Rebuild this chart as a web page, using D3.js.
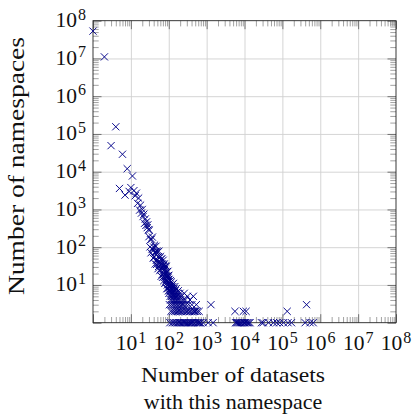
<!DOCTYPE html>
<html>
<head>
<meta charset="utf-8">
<script src="https://cdn.jsdelivr.net/npm/d3@7"></script>
<style>
  body { margin: 0; background: #fff; }
  svg { display: block; font-family: "Liberation Serif", "Times New Roman", serif; }
  .grid line { stroke: #d0d0d0; stroke-width: 0.9; }
  .minor line { stroke: #8a8a8a; stroke-width: 0.8; }
  .major line { stroke: #555; stroke-width: 0.8; }
  .frame { fill: none; stroke: #222; stroke-width: 0.9; }
  .mark { fill: none; stroke: #000088; stroke-width: 0.95; }
  .label { font-size: 21.5px; fill: #111; }
  .title { font-size: 22px; fill: #111; }
</style>
</head>
<body>
<svg id="chart" width="414" height="418"></svg>
<script>
// [datasets with the namespace, number of namespaces]
const headPoints = [
  [1, 53000000], [2, 11000000], [3, 49000], [4, 155000], [5, 3600], [6, 29000],
  [7, 2400], [8, 12000], [9, 3000], [10, 3800], [11, 7700], [12, 3150], [13, 2300],
  [14, 2700], [15, 1450], [16, 2000], [17, 960], [18, 1300], [19, 800], [20, 1000]
];

const bandPoints = [
  [21, 650], [22, 750], [23, 430], [24, 560], [25, 380], [26, 470], [27, 330], [28, 390],
  [29, 290], [30, 190], [31, 284], [32, 102], [33, 158], [34, 71], [35, 163], [36, 90],
  [37, 185], [38, 87], [39, 51], [40, 101], [41, 55], [42, 113], [43, 70], [44, 36],
  [45, 77], [46, 106], [47, 45], [48, 35], [49, 78], [50, 46], [51, 75], [52, 27],
  [53, 56], [54, 31], [55, 78], [56, 36], [57, 52], [58, 24], [59, 40], [60, 57],
  [61, 26], [62, 47], [63, 17], [64, 36], [65, 28], [66, 50], [67, 19], [68, 36],
  [69, 16], [70, 31], [71, 45], [72, 20], [73, 33], [74, 13], [75, 24], [76, 36],
  [77, 16], [78, 26], [79, 11], [80, 30], [81, 18], [82, 32], [83, 12], [84, 21],
  [85, 13], [86, 31], [87, 14], [88, 22], [89, 8], [90, 17], [91, 22], [92, 10],
  [93, 17], [94, 8], [95, 23], [96, 12], [97, 17], [98, 7], [99, 14], [100, 18]
];

const lowPoints = [
  [101, 6], [102, 14], [103, 9], [104, 3], [105, 11], [106, 7], [107, 1], [108, 10],
  [109, 5], [110, 8], [111, 13], [112, 4], [113, 7], [114, 2], [115, 9], [116, 6],
  [117, 12], [118, 3], [119, 8], [120, 5], [122, 10], [123, 1], [124, 6], [125, 4],
  [127, 9], [128, 2], [130, 7], [131, 3], [133, 11], [134, 5], [136, 1], [137, 8],
  [139, 4], [140, 6], [142, 2], [144, 9], [145, 3], [147, 5], [149, 7], [150, 1],
  [152, 4], [154, 6], [156, 2], [158, 8], [160, 3], [162, 5], [165, 1], [167, 4],
  [170, 6], [172, 2], [175, 3], [178, 7], [180, 1], [183, 4], [186, 2], [189, 5],
  [192, 3], [195, 1], [198, 6], [201, 2], [205, 4], [209, 1], [213, 3], [217, 5],
  [221, 2], [226, 1], [230, 3], [235, 4], [240, 2], [245, 1], [250, 3], [256, 6],
  [262, 1], [268, 2], [274, 4], [281, 1], [288, 3], [295, 2], [302, 1], [310, 5],
  [318, 2], [326, 1], [335, 3], [344, 1], [353, 2], [363, 4], [373, 1], [384, 2],
  [395, 1], [407, 3], [420, 1], [433, 2], [445, 5], [458, 1], [472, 2], [487, 2],
  [502, 1], [518, 2], [535, 3], [553, 1], [572, 2], [592, 1], [613, 1], [635, 2],
  [660, 1], [690, 1]
];

const tailPoints = [
  [810, 1], [1100, 1], [1300, 3], [1480, 1],
  [5600, 2], [9300, 2], [11000, 2],
  [5800, 1], [6200, 1], [6600, 1], [7100, 1], [7600, 1], [8100, 1], [8700, 1],
  [9600, 1], [10000, 1], [10500, 1], [11500, 1], [12200, 1], [13100, 1], [14000, 1],
  [28000, 1], [31000, 1], [43000, 1], [58000, 1], [71000, 1], [85000, 1],
  [107000, 1], [134000, 2], [141000, 1], [174000, 1],
  [400000, 1], [435000, 3], [540000, 1], [650000, 1]
];

// axis decades: ticks at 10^0 .. 10^8, labels for 10^1 .. 10^8
const tickExponents = [0, 1, 2, 3, 4, 5, 6, 7, 8];
const labelExponents = [1, 2, 3, 4, 5, 6, 7, 8];
const xTitle = ["Number of datasets", "with this namespace"];
const yTitle = "Number of namespaces";

const plot = { left: 93, right: 396, top: 20.7, bottom: 322.7 };
const svg = d3.select('#chart');

const x = d3.scaleLog().domain([1, 1e8]).range([plot.left, plot.right]);
const y = d3.scaleLog().domain([1, 1e8]).range([plot.bottom, plot.top]);

const majorTicks = tickExponents.map(e => Math.pow(10, e));
const gridTicks = majorTicks.slice(1, -1);
const minorTicks = [];
tickExponents.slice(0, -1).forEach(e => {
  d3.range(2, 10).forEach(k => minorTicks.push(k * Math.pow(10, e)));
});

// gridlines
svg.append('g').attr('class', 'grid')
  .attr('transform', `translate(0,${plot.bottom})`)
  .call(d3.axisBottom(x).tickValues(gridTicks).tickSize(-(plot.bottom - plot.top)).tickFormat(''))
  .call(g => g.select('.domain').remove());
svg.append('g').attr('class', 'grid')
  .attr('transform', `translate(${plot.left},0)`)
  .call(d3.axisLeft(y).tickValues(gridTicks).tickSize(-(plot.right - plot.left)).tickFormat(''))
  .call(g => g.select('.domain').remove());

/**
 * Inward ticks on the four sides of the frame
 */
function drawTicks(values, size, cls) {
  const sides = [
    [d3.axisBottom(x), `translate(0,${plot.bottom})`],
    [d3.axisTop(x), `translate(0,${plot.top})`],
    [d3.axisLeft(y), `translate(${plot.left},0)`],
    [d3.axisRight(y), `translate(${plot.right},0)`]
  ];
  sides.forEach(([axis, tr]) => {
    svg.append('g').attr('class', cls).attr('transform', tr)
      .call(axis.tickValues(values).tickSize(-size).tickFormat(''))
      .call(g => g.select('.domain').remove());
  });
}
drawTicks(minorTicks, 5.7, 'minor');
drawTicks(majorTicks, 8.5, 'major');

svg.append('rect').attr('class', 'frame')
  .attr('x', plot.left).attr('y', plot.top)
  .attr('width', plot.right - plot.left).attr('height', plot.bottom - plot.top);

// tick labels as 10 with a raised exponent
const xLabels = svg.append('g').selectAll('text').data(labelExponents).join('text')
  .attr('class', 'label')
  .attr('text-anchor', 'middle')
  .attr('x', e => x(Math.pow(10, e)))
  .attr('y', 350)
  .text('10');
xLabels.append('tspan').attr('dx', 1).attr('dy', -7.5).style('font-size', '16px').text(e => e);

const yLabels = svg.append('g').selectAll('text').data(labelExponents).join('text')
  .attr('class', 'label')
  .attr('text-anchor', 'end')
  .attr('x', 86)
  .attr('y', e => y(Math.pow(10, e)) + 6.5)
  .text('10');
yLabels.append('tspan').attr('dx', 1).attr('dy', -7.5).style('font-size', '16px').text(e => e);

// axis titles
svg.append('text')
  .attr('class', 'title')
  .attr('text-anchor', 'middle')
  .attr('x', 233).attr('y', 382)
  .attr('textLength', 184)
  .attr('lengthAdjust', 'spacingAndGlyphs')
  .text(xTitle[0]);
svg.append('text')
  .attr('class', 'title')
  .attr('text-anchor', 'middle')
  .attr('x', 233).attr('y', 409)
  .text(xTitle[1]);

svg.append('text')
  .attr('class', 'title')
  .style('font-size', '24px')
  .attr('text-anchor', 'middle')
  .attr('transform', 'translate(24,166) rotate(-90)')
  .attr('textLength', 258)
  .attr('lengthAdjust', 'spacingAndGlyphs')
  .text(yTitle);

// scatter marks
const allPoints = headPoints.concat(bandPoints, lowPoints, tailPoints);
svg.append('g').selectAll('path').data(allPoints).join('path')
  .attr('class', 'mark')
  .attr('transform', d => `translate(${x(d[0])},${y(d[1])})`)
  .attr('d', 'M-3.6,-3.6L3.6,3.6M-3.6,3.6L3.6,-3.6');
</script>
</body>
</html>
